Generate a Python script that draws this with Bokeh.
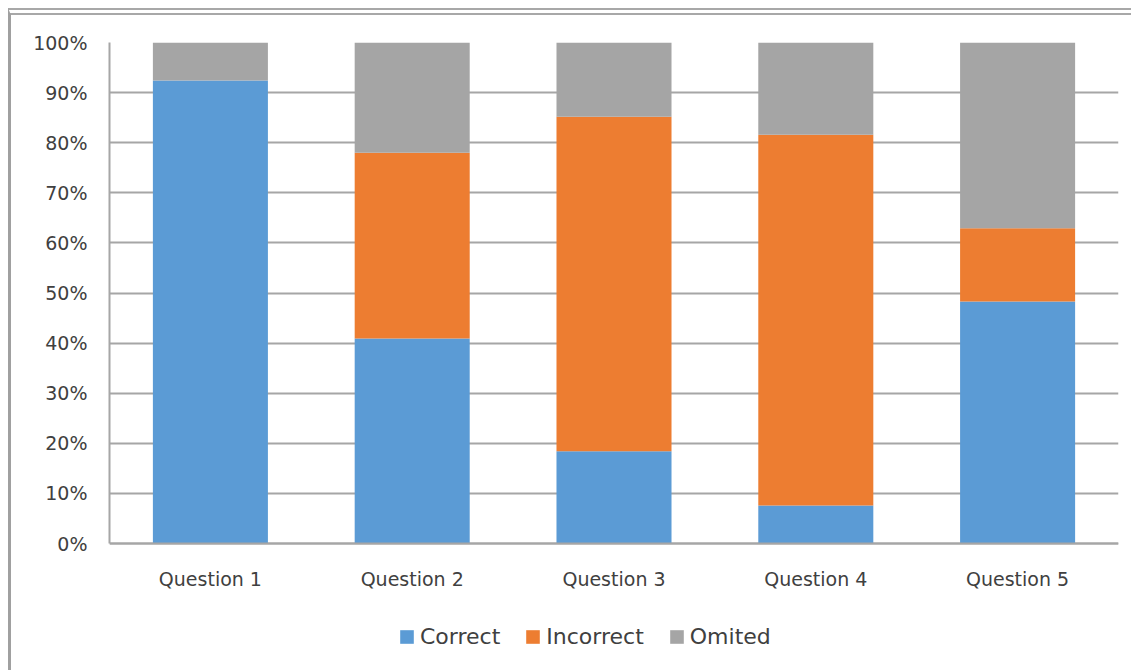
from bokeh.plotting import figure
from bokeh.models import ColumnDataSource, FactorRange, Range1d, NumeralTickFormatter, Legend, LegendItem, FixedTicker
from bokeh.embed import file_html
from bokeh.resources import INLINE

questions = ["Question 1", "Question 2", "Question 3", "Question 4", "Question 5"]
correct = [0.924, 0.409, 0.184, 0.076, 0.483]
incorrect = [0.0, 0.371, 0.668, 0.740, 0.146]
omitted = [0.076, 0.220, 0.148, 0.184, 0.371]
series = ["Correct", "Incorrect", "Omited"]
colors = ["#5B9BD5", "#ED7D31", "#A5A5A5"]
y_ticks = [0.0, 0.1, 0.2, 0.3, 0.4, 0.5, 0.6, 0.7, 0.8, 0.9, 1.0]

source = ColumnDataSource(dict(q=questions, Correct=correct, Incorrect=incorrect, Omited=omitted))

FONT = "DejaVu Sans"
TXT = "#404040"

# the frame extends below 0% so the legend can sit in the plot area under the category labels
PLOT_H = 501      # pixels from 0% to 100%
FRAME_H = 632
y_start = 1 - FRAME_H / PLOT_H

p = figure(x_range=FactorRange(*questions, range_padding=0), y_range=Range1d(y_start, 1),
           frame_width=1009, frame_height=FRAME_H, output_backend="svg", toolbar_location=None,
           min_border_left=98, min_border_right=13, min_border_top=27, min_border_bottom=0,
           styles={"border-left": "3px solid #a0a0a0", "border-top": "7px double #a8a8a8"})
p.margin = (8, 0, 0, 8)

renderers = p.vbar_stack(series, x="q", width=0.57, color=colors, source=source, line_color=None)

p.outline_line_color = None
p.xgrid.grid_line_color = None
p.ygrid.grid_line_color = "#a6a6a6"
p.ygrid.grid_line_width = 2

p.yaxis.ticker = FixedTicker(ticks=y_ticks)
p.yaxis.formatter = NumeralTickFormatter(format="0%")
p.yaxis.bounds = (0, 1)
p.xaxis.fixed_location = 0
for ax in (p.xaxis[0], p.yaxis[0]):
    ax.axis_line_color = "#a6a6a6"
    ax.axis_line_width = 2
    ax.major_tick_line_color = None
    ax.minor_tick_line_color = None
    ax.major_tick_out = 0
    ax.major_tick_in = 0
    ax.major_label_text_font = FONT
    ax.major_label_text_font_size = "19px"
    ax.major_label_text_color = TXT
p.yaxis.major_label_standoff = 22
p.xaxis.major_label_standoff = 24

legend = Legend(items=[LegendItem(label=s, renderers=[r]) for s, r in zip(series, renderers)],
                orientation="horizontal", location=(289, 7 + FRAME_H - 614), border_line_color=None,
                background_fill_alpha=0, padding=0, margin=0, spacing=24,
                glyph_width=17, glyph_height=17, label_standoff=5,
                label_text_font=FONT, label_text_font_size="22px", label_text_color=TXT)
p.add_layout(legend, "center")

html = file_html(p, INLINE)
html = html.replace("<body>", '<body style="overflow:hidden">', 1)
open("out.html", "w").write(html)
